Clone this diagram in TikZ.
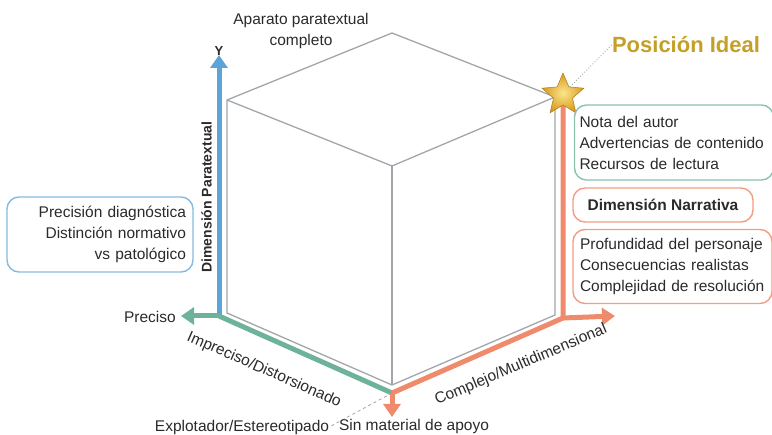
\documentclass[tikz,border=0pt]{standalone}
\usepackage{fontspec}
\setmainfont{Liberation Sans}
\usetikzlibrary{arrows.meta, shapes.geometric, positioning}
\hyphenpenalty=10000
\exhyphenpenalty=10000

\definecolor{axisblue}{HTML}{5CA4D8}
\definecolor{axisgreen}{HTML}{6DB39A}
\definecolor{axisorange}{HTML}{F08A6C}
\definecolor{idealgold}{HTML}{C4A028}
\definecolor{starlight}{HTML}{FCE58A}
\definecolor{stardark}{HTML}{D89A1E}
\definecolor{cubegray}{HTML}{A2A6AB}
\definecolor{txt}{HTML}{2A2A2A}

\tikzset{
  axis/.style={line width=5pt, -{Triangle[width=17pt,length=13pt]}},
  edge/.style={cubegray, line width=1.3pt},
  lbl/.style={text=txt, font=\fontsize{15.5}{21}\selectfont, inner sep=0pt},
  infobox/.style={lbl, draw, rounded corners=12pt, line width=1.4pt, inner xsep=7pt}
}

\begin{document}
\begin{tikzpicture}[x=1pt, y=-1pt]
    \useasboundingbox (0,0) rectangle (772,435);

    % cube corners
    \coordinate (top) at (392,33);
    \coordinate (tl) at (227,100);
    \coordinate (bl) at (227,313);
    \coordinate (bot) at (392,385);
    \coordinate (br) at (555,315);
    \coordinate (tr) at (555,97);
    \coordinate (mid) at (392,166);

    \draw[edge] (top) -- (tl) -- (bl) -- (bot) -- (br) -- (tr) -- cycle;
    \draw[edge] (tl) -- (mid) -- (tr);
    \draw[edge] (mid) -- (bot);

    % axes
    \coordinate (o) at (392,393);
    \coordinate (g) at (219,316);
    \coordinate (r) at (563,318);
    \coordinate (yend) at (219,55);
    \coordinate (xend) at (181,316);
    \coordinate (zend) at (615,316);
    \coordinate (dend) at (392,417);
    \coordinate (ytop) at (563,100);

    \node[lbl] (expl) at (242,427) {Explotador/Estereotipado};
    \draw[dashed, cubegray, line width=0.8pt] (o) -- (expl.east);

    \draw[axis, axisblue] (g) -- (yend);
    \draw[axis, axisgreen] (g) -- (xend);
    \draw[line width=5pt, axisgreen] (o) -- (g);
    \draw[line width=5pt, axisorange] (o) -- (r) -- (ytop);
    \draw[axis, axisorange] (r) -- (zend);
    \draw[axis, axisorange] (o) -- (dend);

    % ideal corner
    \node[star, star points=5, star point ratio=2.2, minimum size=44pt, inner sep=0pt,
          draw=stardark!80!black, line width=0.5pt,
          inner color=starlight, outer color=stardark] (star) at (563,95) {};
    \node[text=idealgold, font=\fontsize{22}{26}\selectfont\bfseries, inner sep=0pt] (ideal) at (686,45) {Posición Ideal};
    \draw[dotted, cubegray, line width=0.9pt] (star.50) -- (ideal.west);

    % axis labels
    \node[lbl, font=\fontsize{13}{15}\selectfont\bfseries] (ylbl) at (219,51) {Y};
    \node[lbl, rotate=90, font=\fontsize{14}{16}\selectfont\bfseries] (ydim) at (206.5,197) {Dimensión Paratextual};
    \node[lbl, align=center] (aparato) at (301,31) {Aparato paratextual\\completo};
    \node[lbl, anchor=east] (preciso) at (176,317) {Preciso};
    \node[lbl, rotate=-23.6] (imp) at (264,370) {Impreciso/Distorsionado};
    \node[lbl, rotate=23] (comp) at (521,365) {Complejo/Multidimensional};
    \node[lbl] (sinmat) at (414,426) {Sin material de apoyo};

    % boxes
    \node[infobox, draw=axisblue!75, align=right, text width=172pt, minimum height=75pt] (lbox) at (100,234.5)
      {Precisión diagnóstica\\Distinción normativo\\vs patológico};
    \node[infobox, draw=axisgreen!80, align=left, inner xsep=5pt, text width=189pt, minimum height=75pt] (gbox) at (674,142.5)
      {Nota del autor\\Advertencias de contenido\\Recursos de lectura};
    \node[infobox, draw=axisorange!85, minimum width=180pt, minimum height=34pt, font=\fontsize{15.5}{21}\selectfont\bfseries] (narr) at (663,205)
      {Dimensión Narrativa};
    \node[infobox, draw=axisorange!85, align=left, text width=185pt, minimum height=74pt] (obox) at (672.5,266.5)
      {Profundidad del personaje\\Consecuencias realistas\\Complejidad de resolución};
\end{tikzpicture}
\end{document}
